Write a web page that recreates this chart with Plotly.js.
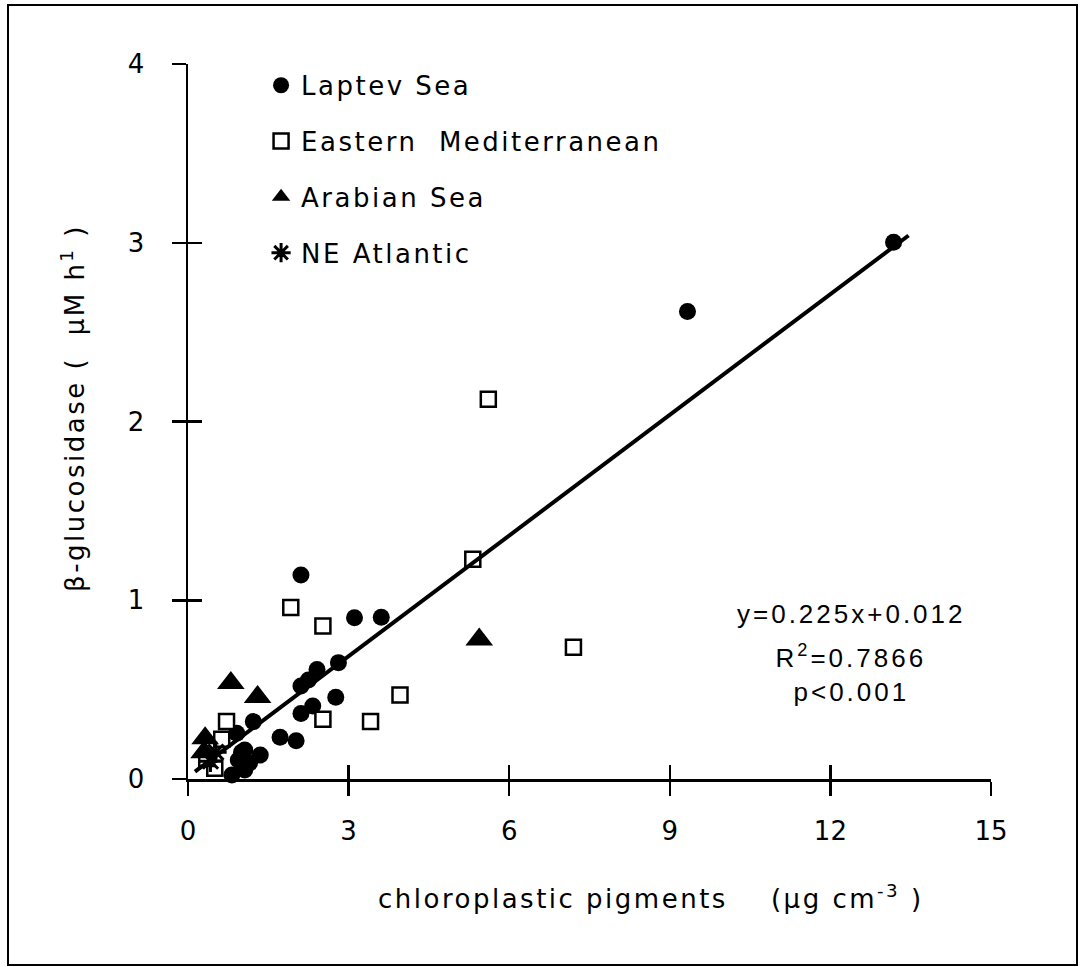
<!DOCTYPE html>
<html>
<head>
<meta charset="utf-8">
<script src="https://cdn.plot.ly/plotly-3.0.1.min.js"></script>
<style>
html,body{margin:0;padding:0;background:#fff;}
#chart{position:absolute;left:0;top:0;width:1080px;height:967px;}
#frame{position:absolute;left:7px;top:4px;width:1071px;height:962px;box-sizing:border-box;border:2px solid #000;pointer-events:none;}
.legendtext{letter-spacing:2.5px;}
.annotation[data-index="0"] text,.annotation[data-index="1"] text{letter-spacing:2.5px;}
.annotation[data-index="2"] text,.annotation[data-index="3"] text,.annotation[data-index="4"] text{letter-spacing:3px;}
</style>
</head>
<body>
<div id="chart"></div>
<div id="frame"></div>
<script>
// ---- data ----
var laptevX = [3.11, 3.61, 2.81, 2.41, 2.25, 2.11, 2.76, 2.33, 2.11, 1.22, 1.72, 2.02, 1.35, 1.06, 0.91, 1.06, 0.82, 0.94, 2.11, 9.33, 13.18, 1.15, 1.00];
var laptevY = [0.902, 0.905, 0.651, 0.612, 0.554, 0.520, 0.457, 0.408, 0.367, 0.321, 0.233, 0.214, 0.134, 0.162, 0.256, 0.050, 0.022, 0.106, 1.141, 2.616, 3.003, 0.090, 0.150];

var medX = [5.61, 5.32, 1.92, 2.52, 7.20, 3.96, 2.52, 3.41, 0.72, 0.63, 0.50, 0.35];
var medY = [2.124, 1.229, 0.960, 0.856, 0.737, 0.470, 0.334, 0.321, 0.321, 0.222, 0.060, 0.114];

var arabX = [5.44, 0.80, 1.30, 0.32, 0.30];
var arabY = [0.780, 0.537, 0.459, 0.228, 0.150];

var atlX = [0.52, 0.42];
var atlY = [0.150, 0.100];

var seriesNames = ['Laptev Sea', 'Eastern\u00a0\u00a0Mediterranean', 'Arabian Sea', 'NE Atlantic'];

var fitSlope = 0.225;
var fitIntercept = 0.012;
var fitX = [0.13, 13.46];
var fitY = fitX.map(function (v) { return fitSlope * v + fitIntercept; });

var xTicks = [0, 3, 6, 9, 12, 15];
var xTickLabels = ['0', '3', '6', '9', '12', '15'];
var yTicks = [0, 1, 2, 3, 4];
var yTickLabels = ['0', '1', '2', '3', '4'];

var statLines = ['y=0.225x+0.012', 'R<sup>2</sup>=0.7866', 'p<0.001'];
var xTitle = 'chloroplastic pigments\u00a0\u00a0\u00a0\u00a0(\u03bcg cm<sup>-3</sup> )';
var yTitle = '\u03b2-glucosidase (\u00a0\u00a0\u03bcM h<sup>1</sup> )';

// ---- traces ----
var traces = [
  {type: 'scatter', mode: 'markers', name: seriesNames[0], legendgroup: 'a', x: laptevX, y: laptevY, cliponaxis: false,
   marker: {symbol: 'circle', size: 17, color: '#000', line: {width: 0}}},
  {type: 'scatter', mode: 'markers', name: seriesNames[1], legendgroup: 'b', x: medX, y: medY, cliponaxis: false,
   marker: {symbol: 'square', size: 15, color: '#fff', line: {width: 2.5, color: '#000'}}},
  {type: 'scatter', mode: 'markers', name: seriesNames[2], legendgroup: 'c', x: arabX, y: arabY, cliponaxis: false,
   marker: {symbol: 'triangle-up', size: 24, color: '#000', line: {width: 0}}},
  {type: 'scatter', mode: 'markers', name: seriesNames[3], legendgroup: 'd', x: atlX, y: atlY, cliponaxis: false,
   marker: {symbol: 'asterisk-open', size: 18, color: '#000', line: {width: 3, color: '#000'}}},
  {type: 'scatter', mode: 'lines', x: fitX, y: fitY, showlegend: false, hoverinfo: 'skip', cliponaxis: false,
   line: {color: '#000', width: 4}},
  {type: 'scatter', mode: 'markers', x: [null], y: [null], xaxis: 'x2', yaxis: 'y2', showlegend: false, hoverinfo: 'skip'}
];

var axisCommon = {
  showline: true, linewidth: 2.5, linecolor: '#000', showgrid: false, zeroline: false,
  ticks: 'outside', ticklen: 14, tickwidth: 2.5, tickcolor: '#000', fixedrange: true,
  tickfont: {family: 'DejaVu Sans', size: 26, color: '#000'}
};

var layout = {
  width: 1080, height: 967,
  margin: {l: 188, r: 89, t: 64, b: 188},
  paper_bgcolor: '#fff', plot_bgcolor: '#fff',
  font: {family: 'DejaVu Sans', size: 26, color: '#000'},
  showlegend: true,
  legend: {x: 0.091, y: 1.003, xanchor: 'left', yanchor: 'top', traceorder: 'grouped', tracegroupgap: 19,
           bgcolor: 'rgba(0,0,0,0)', font: {family: 'DejaVu Sans', size: 26, color: '#000'}},
  xaxis: Object.assign({}, axisCommon, {range: [0, 15], tickmode: 'array', tickvals: xTicks, ticktext: xTickLabels, ticklabelstandoff: 13}),
  yaxis: Object.assign({}, axisCommon, {range: [0, 4], tickmode: 'array', tickvals: yTicks, ticktext: yTickLabels, ticklabelstandoff: 22}),
  xaxis2: {overlaying: 'x', anchor: 'y2', range: [0, 15], tickmode: 'array', tickvals: xTicks, ticks: 'inside', ticklen: 14, tickwidth: 2.5,
           tickcolor: '#000', showticklabels: false, showline: false, showgrid: false, zeroline: false, fixedrange: true},
  yaxis2: {overlaying: 'y', anchor: 'x2', range: [0, 4], tickmode: 'array', tickvals: yTicks, ticks: 'inside', ticklen: 14, tickwidth: 2.5,
           tickcolor: '#000', showticklabels: false, showline: false, showgrid: false, zeroline: false, fixedrange: true},
  annotations: [
    {xref: 'paper', yref: 'paper', x: 0.577, y: -0.165, xanchor: 'center', yanchor: 'middle', showarrow: false,
     text: xTitle, font: {family: 'DejaVu Sans', size: 26, color: '#000'}},
    {xref: 'paper', yref: 'paper', x: -0.1432, y: 0.519, xanchor: 'center', yanchor: 'middle', showarrow: false, textangle: -90,
     text: yTitle, font: {family: 'DejaVu Sans', size: 26, color: '#000'}},
    {xref: 'paper', yref: 'paper', x: 0.826, y: 0.231, xanchor: 'center', yanchor: 'middle', showarrow: false,
     text: statLines[0], font: {family: 'Liberation Sans', size: 26, color: '#000'}},
    {xref: 'paper', yref: 'paper', x: 0.826, y: 0.172, xanchor: 'center', yanchor: 'middle', showarrow: false,
     text: statLines[1], font: {family: 'Liberation Sans', size: 26, color: '#000'}},
    {xref: 'paper', yref: 'paper', x: 0.826, y: 0.122, xanchor: 'center', yanchor: 'middle', showarrow: false,
     text: statLines[2], font: {family: 'Liberation Sans', size: 26, color: '#000'}}
  ]
};

Plotly.newPlot('chart', traces, layout, {displayModeBar: false, staticPlot: true}).then(function (gd) {
  // drop the empty placeholder title nodes Plotly leaves in the SVG
  gd.querySelectorAll('text').forEach(function (t) {
    if (!t.textContent || !t.textContent.trim()) { t.parentNode.removeChild(t); }
  });
});
</script>
</body>
</html>
